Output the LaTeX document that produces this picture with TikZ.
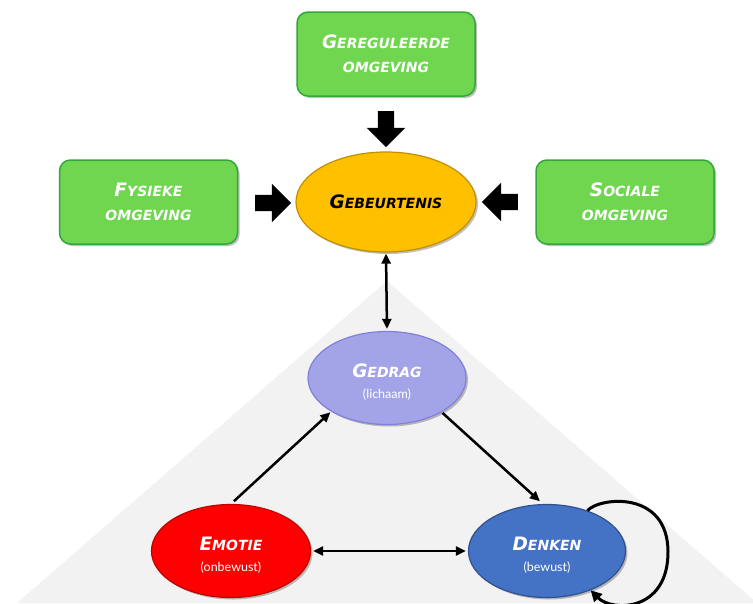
\documentclass[tikz,border=0pt]{standalone}
\usepackage{fontspec}
\setmainfont{DejaVu Sans}
\newfontfamily\subfont{Lato}
\usetikzlibrary{shapes.geometric,shapes.arrows,arrows.meta,shadows}
\definecolor{gfill}{HTML}{70D650}
\definecolor{gline}{HTML}{33A83A}
\definecolor{yfill}{HTML}{FFC000}
\definecolor{yline}{HTML}{BF9000}
\definecolor{pfill}{HTML}{A3A4E8}
\definecolor{pline}{HTML}{8080DC}
\definecolor{rfill}{HTML}{FF0000}
\definecolor{rline}{HTML}{C00000}
\definecolor{bfill}{HTML}{4472C4}
\definecolor{bline}{HTML}{2F528F}
\definecolor{trifill}{HTML}{F2F2F2}
\newcommand{\hd}[2]{{\fontsize{18.5}{24}\selectfont #1}{\fontsize{14}{24}\selectfont #2}}
\newcommand{\sub}[1]{{\subfont\fontsize{12.5}{14}\selectfont\mdseries\upshape #1}}
\tikzset{
  shad/.style={drop shadow={shadow xshift=2pt,shadow yshift=-2pt,opacity=0.25,fill=black}},
  txt/.style={font=\bfseries\itshape\fontsize{14}{24}\selectfont,align=center},
  gbox/.style={rectangle,rounded corners=11pt,fill=gfill,draw=gline,line width=1.5pt,
    minimum width=178pt,minimum height=84pt,text=white,txt,shad},
  ell/.style={ellipse,line width=1.2pt,inner sep=0pt,txt,shad},
  blk/.style={single arrow,fill=black,draw=none,inner xsep=0pt,inner ysep=8pt,
    single arrow head extend=11pt,minimum height=36pt,single arrow head indent=0pt},
  arr/.style={line width=2.5pt,-{Triangle[length=10pt,width=9pt]}},
  dbl/.style={line width=2.5pt,{Triangle[length=10pt,width=9pt]}-{Triangle[length=10pt,width=9pt]}},
}
\begin{document}
\begin{tikzpicture}[x=1pt,y=-1pt]
\useasboundingbox (0,0) rectangle (753,603);
\clip (0,0) rectangle (753,603);
\fill[trifill] (387,281) -- (17,603) -- (757,603) -- cycle;

\node[gbox] (reg) at (386,54) {\hd{G}{EREGULEERDE}\\\hd{}{OMGEVING}};
\node[gbox] (fys) at (148.5,202) {\hd{F}{YSIEKE}\\\hd{}{OMGEVING}};
\node[gbox] (soc) at (625,202) {\hd{S}{OCIALE}\\\hd{}{OMGEVING}};

\node[ell,fill=yfill,draw=yline,minimum width=180pt,minimum height=100pt,text=black] (geb) at (386,202) {\hd{G}{EBEURTENIS}};

\node[blk,rotate=-90] (a1) at (386,125) {};
\node[blk] (a2) at (269,203) {};
\node[blk,rotate=180] (a3) at (504,202) {};

\node[ell,fill=pfill,draw=pline,minimum width=158pt,minimum height=93pt,text=white] (ged) at (387,378) {\rule{0pt}{22pt}\hd{G}{EDRAG}\\[-3pt]\sub{(lichaam)}};
\node[ell,fill=rfill,draw=rline,minimum width=159pt,minimum height=93pt,text=white] (emo) at (231,551) {\rule{0pt}{22pt}\hd{E}{MOTIE}\\[-3pt]\sub{(onbewust)}};
\node[ell,fill=bfill,draw=bline,minimum width=157pt,minimum height=93pt,text=white] (den) at (547,551) {\rule{0pt}{22pt}\hd{D}{ENKEN}\\[-3pt]\sub{(bewust)}};

\draw[dbl,shorten <=1pt,shorten >=2pt] (geb.south) -- (ged.north);
\draw[arr,shorten <=4pt,shorten >=1pt] (emo.north) -- (ged.211);
\draw[arr,shorten <=1pt,shorten >=4pt] (ged.-32) -- (den.95);
\draw[dbl,shorten <=2pt,shorten >=2pt] (emo.east) -- (den.west);
\draw[line width=3pt,-{Triangle[length=11pt,width=11pt]}] (den.45) .. controls (600,497) and (668,490) .. (668,552) .. controls (668,612) and (612,612) .. (den.-42);
\end{tikzpicture}
\end{document}
